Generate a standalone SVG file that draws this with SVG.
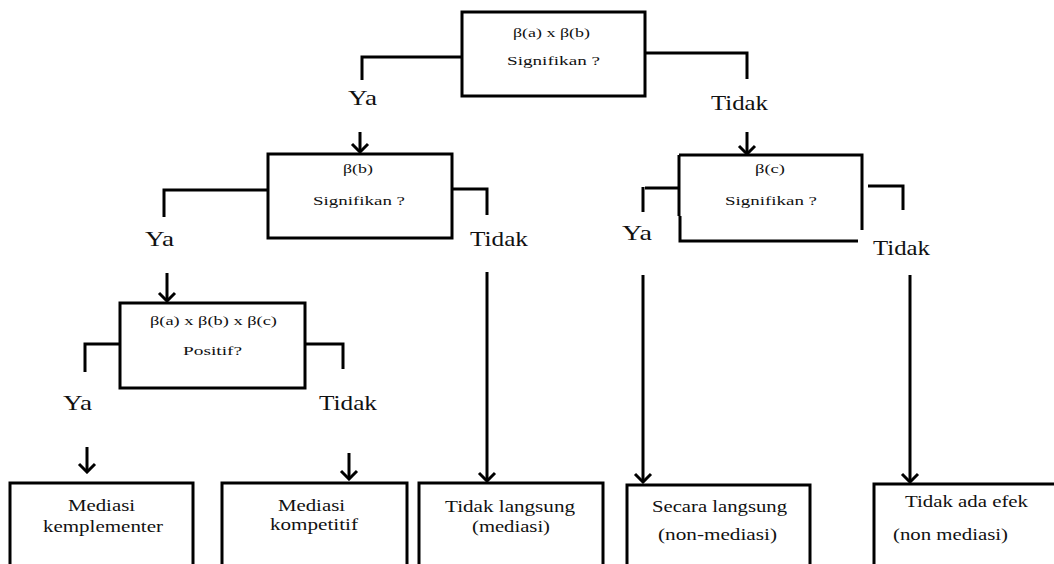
<svg xmlns="http://www.w3.org/2000/svg" width="1054" height="564" viewBox="0 0 1054 564">
<style>
.box{fill:#fff;stroke:#000;stroke-width:3}
.ln{fill:none;stroke:#000;stroke-width:3}
.arr{fill:none;stroke:#000;stroke-width:3;marker-end:url(#ah)}
.s{font-family:"Liberation Serif","Times New Roman",serif;font-size:11.5px;fill:#111}
.l{font-family:"Liberation Serif","Times New Roman",serif;font-size:21px;fill:#111}
.m{font-family:"Liberation Serif","Times New Roman",serif;font-size:16px;fill:#111}
</style>
<defs>
<marker id="ah" markerUnits="userSpaceOnUse" viewBox="-10 -10 12 20" refX="0" refY="0" markerWidth="12" markerHeight="20" orient="auto">
<path d="M-8,-8 L0,0 L-8,8" fill="none" stroke="#000" stroke-width="3"/>
</marker>
</defs>
<g id="connectors">
<path class="ln" d="M462,57 H362 V80"/>
<path class="ln" d="M645,53 H747 V79"/>
<path class="ln" d="M268,190 H164 V217"/>
<path class="ln" d="M452,189 H487 V215"/>
<path class="ln" d="M679,188 H645 M643,187 V212"/>
<path class="ln" d="M868,186 H903 V210"/>
<path class="ln" d="M120,344 H85 V372"/>
<path class="ln" d="M305,344 H343 V369"/>
<path class="arr" d="M360,132 V152"/>
<path class="arr" d="M747,132 V154"/>
<path class="arr" d="M167,273 V301"/>
<path class="arr" d="M487,272 V481"/>
<path class="arr" d="M643,275 V482"/>
<path class="arr" d="M910,275 V482"/>
<path class="arr" d="M87,447 V472"/>
<path class="arr" d="M349,453 V479"/>
<text class="l" x="348" y="105" textLength="29" lengthAdjust="spacingAndGlyphs">Ya</text>
<text class="l" x="711" y="110" textLength="57" lengthAdjust="spacingAndGlyphs">Tidak</text>
<text class="l" x="145" y="246" textLength="29" lengthAdjust="spacingAndGlyphs">Ya</text>
<text class="l" x="470" y="246" textLength="58" lengthAdjust="spacingAndGlyphs">Tidak</text>
<text class="l" x="622" y="240" textLength="30" lengthAdjust="spacingAndGlyphs">Ya</text>
<text class="l" x="873" y="255" textLength="57" lengthAdjust="spacingAndGlyphs">Tidak</text>
<text class="l" x="63" y="410" textLength="29" lengthAdjust="spacingAndGlyphs">Ya</text>
<text class="l" x="319" y="410" textLength="58" lengthAdjust="spacingAndGlyphs">Tidak</text>
</g>
<g id="q1">
<rect class="box" x="462" y="12" width="183" height="84"/>
<text class="s" x="513" y="37" textLength="77" lengthAdjust="spacingAndGlyphs">β(a) x β(b)</text>
<text class="s" x="507" y="65" textLength="93" lengthAdjust="spacingAndGlyphs">Signifikan ?</text>
</g>
<g id="q2">
<rect class="box" x="268" y="154" width="184" height="84"/>
<text class="s" x="343" y="173" textLength="30" lengthAdjust="spacingAndGlyphs">β(b)</text>
<text class="s" x="313" y="205" textLength="92" lengthAdjust="spacingAndGlyphs">Signifikan ?</text>
</g>
<g id="q3">
<path class="ln" d="M679,155 H862 V230"/>
<path class="ln" d="M679,155 V216"/>
<path class="ln" d="M680,216 V241 H858" stroke-width="2.5"/>
<text class="s" x="755" y="173" textLength="30" lengthAdjust="spacingAndGlyphs">β(c)</text>
<text class="s" x="725" y="205" textLength="92" lengthAdjust="spacingAndGlyphs">Signifikan ?</text>
</g>
<g id="q4">
<rect class="box" x="120" y="303" width="185" height="85"/>
<text class="s" x="150" y="325" textLength="127" lengthAdjust="spacingAndGlyphs">β(a) x β(b) x β(c)</text>
<text class="s" x="183" y="355" textLength="59" lengthAdjust="spacingAndGlyphs">Positif?</text>
</g>
<g id="r1">
<rect class="box" x="10" y="483" width="183" height="95"/>
<text class="m" x="68" y="511" textLength="67" lengthAdjust="spacingAndGlyphs">Mediasi</text>
<text class="m" x="43" y="532" textLength="120" lengthAdjust="spacingAndGlyphs">kemplementer</text>
</g>
<g id="r2">
<rect class="box" x="222" y="483" width="185" height="95"/>
<text class="m" x="278" y="511" textLength="67" lengthAdjust="spacingAndGlyphs">Mediasi</text>
<text class="m" x="270" y="530" textLength="88" lengthAdjust="spacingAndGlyphs">kompetitif</text>
</g>
<g id="r3">
<rect class="box" x="419" y="483" width="184" height="95"/>
<text class="m" x="445" y="512" textLength="130" lengthAdjust="spacingAndGlyphs">Tidak langsung</text>
<text class="m" x="472" y="532" textLength="78" lengthAdjust="spacingAndGlyphs">(mediasi)</text>
</g>
<g id="r4">
<rect class="box" x="627" y="485" width="183" height="95"/>
<text class="m" x="652" y="512" textLength="135" lengthAdjust="spacingAndGlyphs">Secara langsung</text>
<text class="m" x="658" y="540" textLength="119" lengthAdjust="spacingAndGlyphs">(non-mediasi)</text>
</g>
<g id="r5">
<rect class="box" x="874" y="484" width="195" height="95"/>
<text class="m" x="905" y="507" textLength="123" lengthAdjust="spacingAndGlyphs">Tidak ada efek</text>
<text class="m" x="893" y="540" textLength="115" lengthAdjust="spacingAndGlyphs">(non mediasi)</text>
</g>
</svg>
